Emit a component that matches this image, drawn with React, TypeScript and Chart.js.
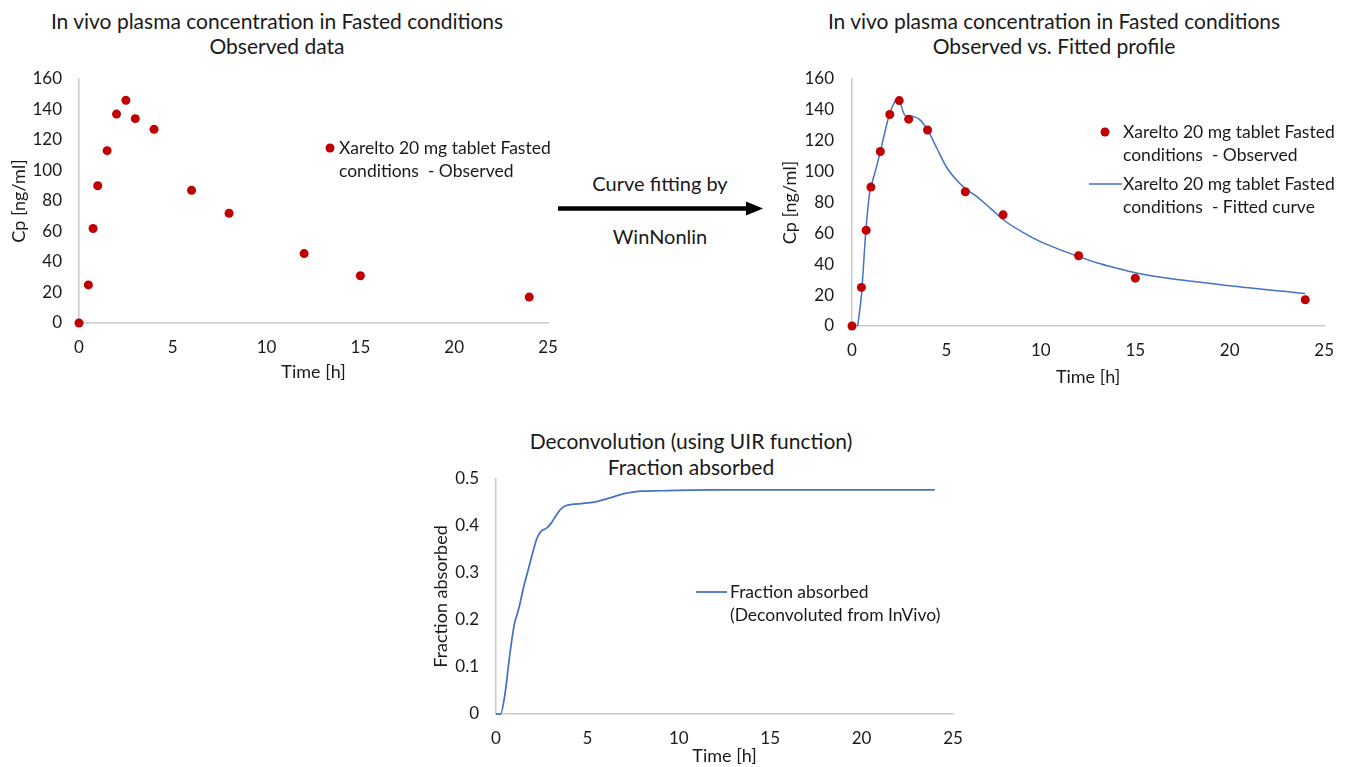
import React, { useEffect, useRef } from "react";
import { Chart, registerables } from "chart.js";

Chart.register(...registerables);

// ---------- data ----------
const obsTime = [0, 0.5, 0.75, 1, 1.5, 2, 2.5, 3, 4, 6, 8, 12, 15, 24];
const obsCp = [0, 25, 62, 90, 113, 137, 146, 134, 127, 87, 72, 45.5, 31, 17];

const fitTime = [0.3, 0.5, 0.73, 0.93, 1.0, 1.25, 1.5, 1.75, 1.93, 2.1, 2.26, 2.42, 2.55, 2.7, 2.85, 3.05, 3.3, 3.6, 4.0, 4.5, 5.0, 5.5, 6.0, 6.6, 7.3, 8.1, 9.0, 10.0, 11.0, 12.0, 13.0, 14.0, 15.0, 16.0, 17.0, 18.0, 19.0, 20.0, 21.0, 22.0, 23.0, 24.0];
const fitCp = [0, 20, 61, 86, 90, 101, 113, 126, 135, 141, 145, 147, 145, 139, 136, 136, 135.5, 133.5, 127, 115, 103, 95, 89, 84, 76.5, 68, 61, 54.5, 49.5, 45, 40.8, 37.5, 34.5, 32.3, 30.5, 29, 27.5, 26, 24.8, 23.5, 22.3, 21];

const faTime = [0, 0.25, 0.5, 0.75, 1.0, 1.25, 1.5, 1.75, 2.0, 2.25, 2.5, 2.75, 3.0, 3.25, 3.5, 3.75, 4.0, 4.5, 5.0, 5.5, 6.0, 6.5, 7.0, 7.5, 8.0, 9.0, 10.0, 12, 16, 20, 24];
const faValue = [0, 0, 0.045, 0.125, 0.19, 0.225, 0.268, 0.305, 0.342, 0.375, 0.39, 0.395, 0.405, 0.42, 0.434, 0.442, 0.445, 0.447, 0.449, 0.452, 0.457, 0.463, 0.469, 0.472, 0.474, 0.475, 0.476, 0.477, 0.477, 0.477, 0.477];

const timeTicks = [0, 5, 10, 15, 20, 25];
const cpTicks = [0, 20, 40, 60, 80, 100, 120, 140, 160];
const faTicks = [0, 0.1, 0.2, 0.3, 0.4, 0.5];

const obsLabel = ["Xarelto 20 mg tablet Fasted", "conditions  - Observed"];
const fitLabel = ["Xarelto 20 mg tablet Fasted", "conditions  - Fitted curve"];
const faLabel = ["Fraction absorbed", "(Deconvoluted from InVivo)"];

// ---------- styles ----------
const FONT = "Lato, 'Open Sans', sans-serif";
const RED = "#C00000";
const BLUE = "#4472C4";
const AXIS = "#C9C9C9";
const TEXT = "#1a1a1a";
const TICK_SIZE = 17;
const AXIS_TITLE_SIZE = 18;
const LEGEND_SIZE = 17.5;
const TITLE_SIZE = 21;

const pts = (xs: number[], ys: number[]) => xs.map((x, i) => ({ x, y: ys[i] }));

const legendPlugin = {
  id: "boxLegend",
  afterDraw(chart: any, _args: any, opts: any) {
    if (!opts || !opts.items) return;
    const ctx = chart.ctx;
    ctx.save();
    ctx.font = `${opts.fontSize}px ${FONT}`;
    ctx.textBaseline = "middle";
    ctx.textAlign = "left";
    opts.items.forEach((item: any) => {
      const ds = chart.data.datasets[item.dataset];
      if (item.marker === "dot") {
        ctx.beginPath();
        ctx.fillStyle = ds.pointBackgroundColor;
        ctx.arc(item.mx, item.y, ds.pointRadius, 0, Math.PI * 2);
        ctx.fill();
      } else {
        ctx.beginPath();
        ctx.strokeStyle = ds.borderColor;
        ctx.lineWidth = ds.borderWidth;
        ctx.moveTo(item.mx1, item.y);
        ctx.lineTo(item.mx2, item.y);
        ctx.stroke();
      }
      ctx.fillStyle = TEXT;
      item.lines.forEach((t: string, i: number) => {
        ctx.fillText(t, opts.textX, item.y + i * opts.lineGap);
      });
    });
    ctx.restore();
  },
};

function xScale(axisH: number, tickPad: number) {
  return {
    type: "linear",
    position: "bottom",
    min: 0,
    max: 25,
    afterBuildTicks: (s: any) => {
      s.ticks = timeTicks.map((v) => ({ value: v }));
    },
    ticks: { padding: tickPad, color: TEXT, font: { family: FONT, size: TICK_SIZE }, maxRotation: 0, autoSkip: false },
    grid: { display: false, drawTicks: false },
    border: { display: true, color: AXIS, width: 1.5 },
    title: { display: true, text: "Time [h]", color: TEXT, font: { family: FONT, size: AXIS_TITLE_SIZE }, padding: { top: 0, bottom: 0 } },
    afterFit: (s: any) => {
      s.height = axisH;
    },
  };
}

function yScale(ticksArr: number[], min: number, max: number, title: string, axisW: number, tickPad: number, titlePad: number) {
  return {
    type: "linear",
    position: "left",
    min,
    max,
    afterBuildTicks: (s: any) => {
      s.ticks = ticksArr.map((v) => ({ value: v }));
    },
    ticks: { padding: tickPad, color: TEXT, font: { family: FONT, size: TICK_SIZE }, autoSkip: false },
    grid: { display: false, drawTicks: false },
    border: { display: true, color: AXIS, width: 1.5 },
    title: { display: true, text: title, color: TEXT, font: { family: FONT, size: AXIS_TITLE_SIZE }, padding: { top: titlePad, bottom: 0 } },
    afterFit: (s: any) => {
      s.width = axisW;
    },
  };
}

function ChartBox({ left, top, width, height, make }: any) {
  const ref = useRef<HTMLCanvasElement>(null);
  useEffect(() => {
    if (!ref.current) return;
    const chart = new Chart(ref.current, make());
    return () => chart.destroy();
  }, []);
  return (
    <canvas
      ref={ref}
      width={width}
      height={height}
      style={{ position: "absolute", left, top, width, height }}
    />
  );
}

const observedDataset = () => ({
  label: obsLabel.join(" "),
  data: pts(obsTime, obsCp),
  showLine: false,
  pointRadius: 4.5,
  pointHoverRadius: 4.5,
  pointBackgroundColor: RED,
  pointBorderColor: RED,
  pointBorderWidth: 0,
  clip: false,
});

const chart1 = () => ({
  type: "scatter",
  data: { datasets: [observedDataset()] },
  options: {
    animation: false,
    responsive: false,
    events: [],
    layout: { padding: { top: 79, left: 0, right: 27, bottom: 12 } },
    scales: {
      x: xScale(60, 14),
      y: yScale(cpTicks, 0, 160, "Cp [ng/ml]", 79, 17, 8),
    },
    plugins: {
      legend: { display: false },
      tooltip: { enabled: false },
      boxLegend: {
        fontSize: LEGEND_SIZE,
        textX: 339,
        lineGap: 23,
        items: [{ dataset: 0, marker: "dot", mx: 330, y: 148, lines: obsLabel }],
      },
    },
  },
  plugins: [legendPlugin],
});

const chart2 = () => ({
  type: "scatter",
  data: {
    datasets: [
      observedDataset(),
      {
        label: fitLabel.join(" "),
        data: pts(fitTime, fitCp),
        showLine: true,
        pointRadius: 0,
        borderColor: BLUE,
        backgroundColor: BLUE,
        borderWidth: 1.5,
        cubicInterpolationMode: "monotone",
        clip: false,
      },
    ],
  },
  options: {
    animation: false,
    responsive: false,
    events: [],
    layout: { padding: { top: 79, left: 0, right: 20, bottom: 12 } },
    scales: {
      x: xScale(62, 14),
      y: yScale(cpTicks, 0, 160, "Cp [ng/ml]", 82, 18, 9),
    },
    plugins: {
      legend: { display: false },
      tooltip: { enabled: false },
      boxLegend: {
        fontSize: LEGEND_SIZE,
        textX: 353,
        lineGap: 23,
        items: [
          { dataset: 0, marker: "dot", mx: 335, y: 132, lines: obsLabel },
          { dataset: 1, marker: "line", mx1: 319, mx2: 352, y: 184, lines: fitLabel },
        ],
      },
    },
  },
  plugins: [legendPlugin],
});

const chart3 = () => ({
  type: "scatter",
  data: {
    datasets: [
      {
        label: faLabel.join(" "),
        data: pts(faTime, faValue),
        showLine: true,
        pointRadius: 0,
        borderColor: BLUE,
        backgroundColor: BLUE,
        borderWidth: 1.75,
        cubicInterpolationMode: "monotone",
        clip: false,
      },
    ],
  },
  options: {
    animation: false,
    responsive: false,
    events: [],
    layout: { padding: { top: 69, left: 0, right: 27, bottom: 0 } },
    scales: {
      x: xScale(53, 14),
      y: yScale(faTicks, 0, 0.5, "Fraction absorbed", 76, 17, 10),
    },
    plugins: {
      legend: { display: false },
      tooltip: { enabled: false },
      boxLegend: {
        fontSize: LEGEND_SIZE,
        textX: 310,
        lineGap: 23,
        items: [{ dataset: 0, marker: "line", mx1: 276, mx2: 307, y: 182, lines: faLabel }],
      },
    },
  },
  plugins: [legendPlugin],
});

function Label({ x, y, text, size }: any) {
  return (
    <div
      style={{
        position: "absolute",
        left: x,
        top: y,
        transform: "translate(-50%, -50%)",
        whiteSpace: "nowrap",
        fontFamily: FONT,
        fontSize: size,
        lineHeight: 1,
        color: TEXT,
      }}
    >
      {text}
    </div>
  );
}

export default function App() {
  return (
    <div style={{ position: "absolute", left: 0, top: 0, width: 1348, height: 767, background: "#fff", overflow: "hidden" }}>
      <Label x={277} y={20} size={TITLE_SIZE} text="In vivo plasma concentration in Fasted conditions" />
      <Label x={277} y={45} size={TITLE_SIZE} text="Observed data" />
      <Label x={1054} y={20} size={TITLE_SIZE} text="In vivo plasma concentration in Fasted conditions" />
      <Label x={1054} y={45} size={TITLE_SIZE} text="Observed vs. Fitted profile" />
      <Label x={691} y={440} size={TITLE_SIZE} text="Deconvolution (using UIR function)" />
      <Label x={691} y={466} size={TITLE_SIZE} text="Fraction absorbed" />

      <Label x={660} y={183} size={20} text="Curve fitting by" />
      <Label x={660} y={236} size={20} text="WinNonlin" />
      <svg style={{ position: "absolute", left: 0, top: 0 }} width={1348} height={767}>
        <line x1={558} y1={208.5} x2={748} y2={208.5} stroke="#000" strokeWidth={4.5} />
        <polygon points="746,201.5 763,208.5 746,215.5" fill="#000" />
      </svg>

      <ChartBox left={0} top={0} width={575} height={395} make={chart1} />
      <ChartBox left={770} top={0} width={578} height={400} make={chart2} />
      <ChartBox left={420} top={410} width={560} height={357} make={chart3} />
    </div>
  );
}
